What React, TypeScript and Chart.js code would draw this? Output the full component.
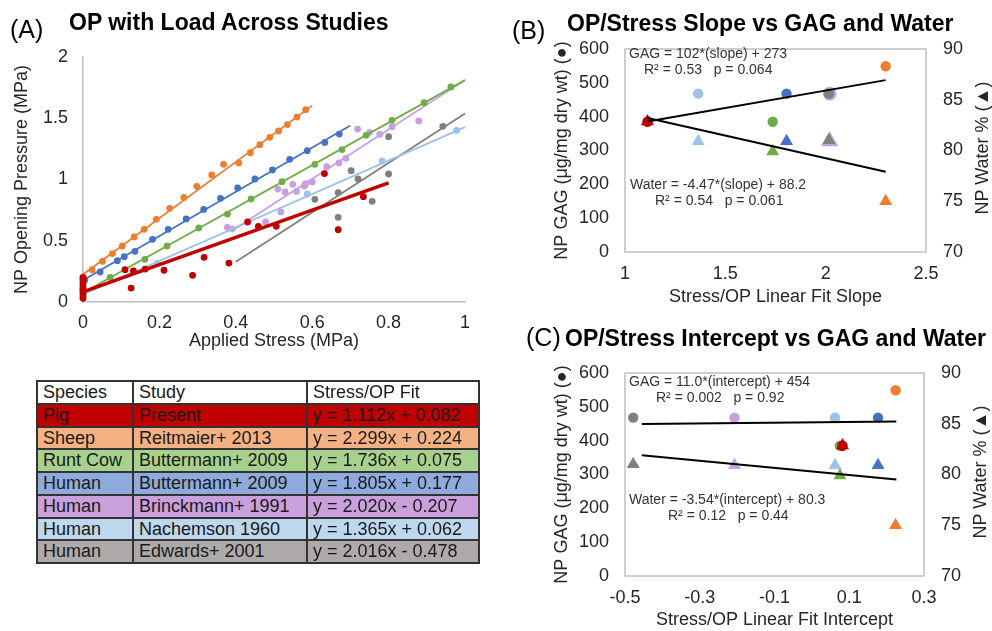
import React, { useEffect, useRef } from "react";
import { Chart, registerables } from "chart.js";

Chart.register(...registerables);

const FONT = "'Liberation Sans', Arial, Helvetica, sans-serif";
const TEXT = "#262626";
const AXIS = "#BFBFBF";
Chart.defaults.font.family = FONT;

// ---------- Study table ----------
const studySpecies = ["Pig", "Sheep", "Runt Cow", "Human", "Human", "Human", "Human"];
const studyNames = ["Present", "Reitmaier+ 2013", "Buttermann+ 2009", "Buttermann+ 2009", "Brinckmann+ 1991", "Nachemson 1960", "Edwards+ 2001"];
const fitLabels = ["y = 1.112x + 0.082", "y = 2.299x + 0.224", "y = 1.736x + 0.075", "y = 1.805x + 0.177", "y = 2.020x - 0.207", "y = 1.365x + 0.062", "y = 2.016x - 0.478"];
const studyColors = ["#C00000", "#ED7D31", "#70AD47", "#4472C4", "#C7A0E2", "#9DC3E6", "#7F7F7F"];
const rowColors = ["#C00000", "#F4B183", "#A9D18E", "#8FAADC", "#C9A0DC", "#BDD7EE", "#AEAAAA"];

// ---------- Panel A: OP vs applied stress ----------
const pigPoints: number[][] = [[0, 0.03], [0, 0.05], [0, 0.07], [0, 0.09], [0, 0.11], [0, 0.13], [0, 0.15], [0, 0.17], [0, 0.19], [0, 0.2], [0.110, 0.264], [0.126, 0.114], [0.132, 0.253], [0.163, 0.269], [0.212, 0.259], [0.287, 0.218], [0.317, 0.365], [0.382, 0.318], [0.431, 0.653], [0.459, 0.618], [0.506, 0.618], [0.632, 1.048], [0.668, 0.590], [0.734, 0.860]];
const sheepPoints: number[][] = [[0.024, 0.264], [0.051, 0.332], [0.077, 0.395], [0.103, 0.457], [0.134, 0.531], [0.160, 0.593], [0.192, 0.675], [0.227, 0.765], [0.264, 0.854], [0.298, 0.944], [0.337, 1.037], [0.368, 1.124], [0.408, 1.135], [0.438, 1.219], [0.463, 1.284], [0.489, 1.344], [0.512, 1.396], [0.535, 1.448], [0.560, 1.510], [0.583, 1.570]];
const runtCowPoints: number[][] = [[0, 0.10], [0.071, 0.201], [0.162, 0.348], [0.220, 0.457], [0.303, 0.604], [0.378, 0.718], [0.440, 0.841], [0.521, 0.982], [0.607, 1.124], [0.678, 1.244], [0.741, 1.361], [0.809, 1.483], [0.893, 1.627], [0.963, 1.755]];
const humanButtermannPoints: number[][] = [[0.005, 0.182], [0.045, 0.245], [0.090, 0.337], [0.108, 0.370], [0.136, 0.414], [0.182, 0.512], [0.223, 0.593], [0.270, 0.678], [0.316, 0.756], [0.360, 0.846], [0.405, 0.931], [0.450, 1.004], [0.496, 1.078], [0.541, 1.165], [0.587, 1.235], [0.633, 1.303], [0.671, 1.371]];
const brinckmannPoints: number[][] = [[0.378, 0.610], [0.478, 0.653], [0.518, 0.735], [0.510, 0.922], [0.529, 0.898], [0.549, 0.961], [0.559, 0.903], [0.579, 0.947], [0.583, 0.966], [0.600, 0.980], [0.638, 1.105], [0.670, 1.135], [0.688, 1.173], [0.719, 1.412], [0.750, 1.385], [0.777, 1.369], [0.809, 1.431], [0.879, 1.478]];
const nachemsonPoints: number[][] = [[0.195, 0.318], [0.391, 0.596], [0.587, 0.882], [0.783, 1.151], [0.978, 1.401]];
const edwardsPoints: number[][] = [[0.607, 0.838], [0.668, 0.893], [0.668, 0.691], [0.702, 1.072], [0.720, 1.004], [0.757, 0.822], [0.800, 1.350], [0.800, 1.045], [0.942, 1.434]];

const pigFit: number[][] = [[0, 0.082], [0.8, 0.972]];
const sheepFit: number[][] = [[0, 0.224], [0.6, 1.603]];
const runtCowFit: number[][] = [[0, 0.075], [1.0, 1.811]];
const humanButtermannFit: number[][] = [[0, 0.177], [0.7, 1.441]];
const brinckmannFit: number[][] = [[0.39, 0.581], [1.0, 1.813]];
const nachemsonFit: number[][] = [[0, 0.062], [1.0, 1.427]];
const edwardsFit: number[][] = [[0.4, 0.328], [1.0, 1.538]];

// ---------- Panels B & C ----------
const fitSlopes = [1.112, 2.299, 1.736, 1.805, 2.020, 1.365, 2.016];
const fitIntercepts = [0.082, 0.224, 0.075, 0.177, -0.207, 0.062, -0.478];
const npGag = [385, 549, 385, 468, 468, 468, 468];
const npWater = [82.85, 75.0, 79.9, 80.9, 80.9, 80.9, 81.0];

const slopeGagTrend: number[][] = [[1.112, 386], [2.299, 508]];
const slopeWaterTrend: number[][] = [[1.112, 83.2], [2.299, 77.9]];
const interceptGagTrend: number[][] = [[-0.455, 449], [0.226, 456.5]];
const interceptWaterTrend: number[][] = [[-0.455, 81.9], [0.226, 79.5]];

// ---------- helpers ----------
const toXY = (arr: number[][]) => arr.map(([x, y]) => ({ x, y }));
const tickFont = { family: FONT, size: 18 };
const titleFont = { family: FONT, size: 18 };
const plainTick = (v: any) => String(+(+v).toFixed(3));

const boxPlugin = {
  id: "boxFrame",
  beforeDatasetsDraw(chart: any) {
    const { ctx, chartArea: a } = chart;
    ctx.save();
    ctx.strokeStyle = AXIS;
    ctx.lineWidth = 1.5;
    ctx.strokeRect(a.left, a.top, a.right - a.left, a.bottom - a.top);
    ctx.restore();
  },
};

function buildA(): any {
  const series = [
    { pts: pigPoints, fit: pigFit, color: studyColors[0], w: 3.5 },
    { pts: sheepPoints, fit: sheepFit, color: studyColors[1], w: 1.8 },
    { pts: runtCowPoints, fit: runtCowFit, color: studyColors[2], w: 1.8 },
    { pts: humanButtermannPoints, fit: humanButtermannFit, color: studyColors[3], w: 1.8 },
    { pts: brinckmannPoints, fit: brinckmannFit, color: studyColors[4], w: 1.8 },
    { pts: nachemsonPoints, fit: nachemsonFit, color: studyColors[5], w: 1.8 },
    { pts: edwardsPoints, fit: edwardsFit, color: studyColors[6], w: 1.8 },
  ];
  const datasets: any[] = [];
  series.forEach((s) => {
    datasets.push({ data: toXY(s.fit), showLine: true, borderColor: s.color, borderWidth: s.w, pointRadius: 0, clip: false });
    datasets.push({ data: toXY(s.pts), showLine: false, pointRadius: 3.4, backgroundColor: s.color, borderColor: s.color, pointBorderWidth: 0, clip: false });
  });
  return {
    type: "scatter",
    data: { datasets },
    options: {
      animation: false,
      responsive: false,
      events: [],
      layout: { padding: { top: 57, right: 25, left: 0, bottom: 0 } },
      plugins: { legend: { display: false }, tooltip: { enabled: false } },
      scales: {
        x: {
          type: "linear", min: 0, max: 1,
          ticks: { stepSize: 0.2, font: tickFont, color: TEXT, padding: 10, maxRotation: 0, callback: plainTick },
          grid: { display: false, drawTicks: false },
          border: { display: true, color: AXIS, width: 1.5 },
          title: { display: true, text: "Applied Stress (MPa)", font: titleFont, color: TEXT, padding: { top: 0, bottom: 3 } },
          afterFit: (s: any) => { s.height = 53; },
        },
        y: {
          type: "linear", min: 0, max: 2,
          ticks: { stepSize: 0.5, font: tickFont, color: TEXT, padding: 15, callback: plainTick },
          grid: { display: false, drawTicks: false },
          border: { display: true, color: AXIS, width: 1.5 },
          title: { display: true, text: "NP Opening Pressure (MPa)", font: titleFont, color: TEXT, padding: { top: 11, bottom: 0 } },
          afterFit: (s: any) => { s.width = 83; },
        },
      },
    },
  };
}

function buildRelation(xs: number[], gagTrend: number[][], waterTrend: number[][], cfg: any): any {
  const datasets: any[] = [
    { data: toXY(gagTrend), yAxisID: "y", showLine: true, borderColor: "#000", borderWidth: 2, pointRadius: 0, clip: false },
    { data: toXY(waterTrend), yAxisID: "y2", showLine: true, borderColor: "#000", borderWidth: 2, pointRadius: 0, clip: false },
  ];
  // drawing order (top first): pig, edwards, sheep, runt cow, human buttermann, nachemson, brinckmann
  const order = [0, 6, 1, 2, 3, 5, 4];
  order.forEach((i) => {
    const big = cfg.bigPurple && i === 4;
    datasets.push({ data: [{ x: xs[i], y: npWater[i] }], yAxisID: "y2", pointStyle: "triangle", pointRadius: big ? 10 : 7.5, backgroundColor: studyColors[i], borderColor: studyColors[i], pointBorderWidth: 0, clip: false });
    datasets.push({ data: [{ x: xs[i], y: npGag[i] }], yAxisID: "y", pointStyle: "circle", pointRadius: big ? 6.8 : 5.2, backgroundColor: studyColors[i], borderColor: studyColors[i], pointBorderWidth: 0, clip: false });
  });
  return {
    type: "scatter",
    data: { datasets },
    plugins: [boxPlugin],
    options: {
      animation: false,
      responsive: false,
      events: [],
      layout: { padding: { top: cfg.top, right: 0, left: 0, bottom: 0 } },
      plugins: { legend: { display: false }, tooltip: { enabled: false } },
      scales: {
        x: {
          type: "linear", min: cfg.xMin, max: cfg.xMax,
          ticks: { stepSize: cfg.xStep, font: tickFont, color: TEXT, padding: 11, maxRotation: 0, callback: plainTick },
          grid: { display: false, drawTicks: false },
          border: { display: false },
          title: { display: true, text: cfg.xTitle, font: titleFont, color: TEXT, padding: { top: 0, bottom: cfg.xTitlePad } },
          afterFit: (s: any) => { s.height = cfg.xHeight; },
        },
        y: {
          type: "linear", position: "left", min: 0, max: 600,
          ticks: { stepSize: 100, font: tickFont, color: TEXT, padding: 16, callback: plainTick },
          grid: { display: false, drawTicks: false },
          border: { display: false },
          title: { display: true, text: "NP GAG (μg/mg dry wt) (●)", font: titleFont, color: TEXT, padding: { top: 51, bottom: 0 } },
          afterFit: (s: any) => { s.width = 125; },
        },
        y2: {
          type: "linear", position: "right", min: 70, max: 90,
          ticks: { stepSize: 5, font: tickFont, color: TEXT, padding: 17, callback: plainTick },
          grid: { display: false, drawTicks: false },
          border: { display: false },
          afterFit: (s: any) => { s.width = cfg.rightWidth; },
        },
      },
    },
  };
}

function ChartBox({ left, top, width, height, build }: { left: number; top: number; width: number; height: number; build: () => any }) {
  const ref = useRef<HTMLCanvasElement>(null);
  useEffect(() => {
    const chart = new Chart(ref.current as HTMLCanvasElement, build());
    return () => chart.destroy();
  }, []);
  return (
    <div style={{ position: "absolute", left, top, width, height }}>
      <canvas ref={ref} width={width} height={height} style={{ width, height, display: "block" }} />
    </div>
  );
}

function Txt({ left, cy, size, bold, color, children }: any) {
  return (
    <div style={{ position: "absolute", left, top: cy - size / 2, fontSize: size, lineHeight: `${size}px`, fontWeight: bold ? 700 : 400, whiteSpace: "pre", color: color || "#000", fontFamily: FONT }}>
      {children}
    </div>
  );
}

function VTxt({ cx, cy, size, children }: any) {
  return (
    <div style={{ position: "absolute", left: cx, top: cy, fontSize: size, lineHeight: `${size}px`, whiteSpace: "pre", color: TEXT, fontFamily: FONT, transform: "translate(-50%, -50%) rotate(-90deg)" }}>
      {children}
    </div>
  );
}

function StudyTable() {
  const colB = [37, 133, 307, 479];
  const rowH = 22.75;
  const top0 = 381;
  const rows = [["Species", "Study", "Stress/OP Fit"]].concat(studySpecies.map((s, i) => [s, studyNames[i], fitLabels[i]]));
  const cells: any[] = [];
  rows.forEach((r, k) => {
    r.forEach((t, j) => {
      cells.push(
        <div key={`${k}-${j}`} style={{ position: "absolute", left: colB[j] + 1, top: top0 + k * rowH + 1, width: colB[j + 1] - colB[j] - 2, height: rowH - 2, background: k === 0 ? "#FFFFFF" : rowColors[k - 1], fontSize: 18, lineHeight: `${rowH - 2}px`, paddingLeft: 5, boxSizing: "border-box", whiteSpace: "pre", color: "#1A1A1A", fontFamily: FONT, overflow: "hidden" }}>
          {t}
        </div>
      );
    });
  });
  return (
    <>
      <div style={{ position: "absolute", left: colB[0] - 1, top: top0 - 1, width: colB[3] - colB[0] + 2, height: rowH * 8 + 2, background: "#333" }} />
      {cells}
    </>
  );
}

export default function App() {
  return (
    <div style={{ position: "absolute", left: 0, top: 0, width: 992, height: 631, background: "#fff", overflow: "hidden", fontFamily: FONT }}>
      <ChartBox left={0} top={0} width={490} height={355} build={buildA} />
      <ChartBox left={500} top={0} width={492} height={310} build={() => buildRelation(fitSlopes, slopeGagTrend, slopeWaterTrend, { top: 49, xMin: 1, xMax: 2.5, xStep: 0.5, xTitle: "Stress/OP Linear Fit Slope", xTitlePad: 2, xHeight: 58, rightWidth: 66, bigPurple: true })} />
      <ChartBox left={500} top={310} width={492} height={321} build={() => buildRelation(fitIntercepts, interceptGagTrend, interceptWaterTrend, { top: 63, xMin: -0.5, xMax: 0.3, xStep: 0.2, xTitle: "Stress/OP Linear Fit Intercept", xTitlePad: 0, xHeight: 55, rightWidth: 68, bigPurple: false })} />

      <Txt left={10} cy={29} size={25}>(A)</Txt>
      <Txt left={69} cy={22} size={23} bold>OP with Load Across Studies</Txt>
      <Txt left={512} cy={30} size={25}>(B)</Txt>
      <Txt left={567} cy={23} size={23} bold>OP/Stress Slope vs GAG and Water</Txt>
      <Txt left={526} cy={337} size={25}>(C)</Txt>
      <Txt left={565} cy={338} size={23} bold>OP/Stress Intercept vs GAG and Water</Txt>

      <Txt left={629} cy={53} size={14} color="#333">GAG = 102*(slope) + 273</Txt>
      <Txt left={644} cy={69} size={14} color="#333">R² = 0.53   p = 0.064</Txt>
      <Txt left={630} cy={184} size={14} color="#333">Water = -4.47*(slope) + 88.2</Txt>
      <Txt left={655} cy={200} size={14} color="#333">R² = 0.54   p = 0.061</Txt>

      <Txt left={629} cy={381} size={14} color="#333">GAG = 11.0*(intercept) + 454</Txt>
      <Txt left={656} cy={397} size={14} color="#333">R² = 0.002   p = 0.92</Txt>
      <Txt left={629} cy={499} size={14} color="#333">Water = -3.54*(intercept) + 80.3</Txt>
      <Txt left={668} cy={515} size={14} color="#333">R² = 0.12   p = 0.44</Txt>

      <VTxt cx={982} cy={148} size={18}>NP Water % (▲)</VTxt>
      <VTxt cx={980} cy={472} size={18}>NP Water % (▲)</VTxt>

      <StudyTable />
    </div>
  );
}
